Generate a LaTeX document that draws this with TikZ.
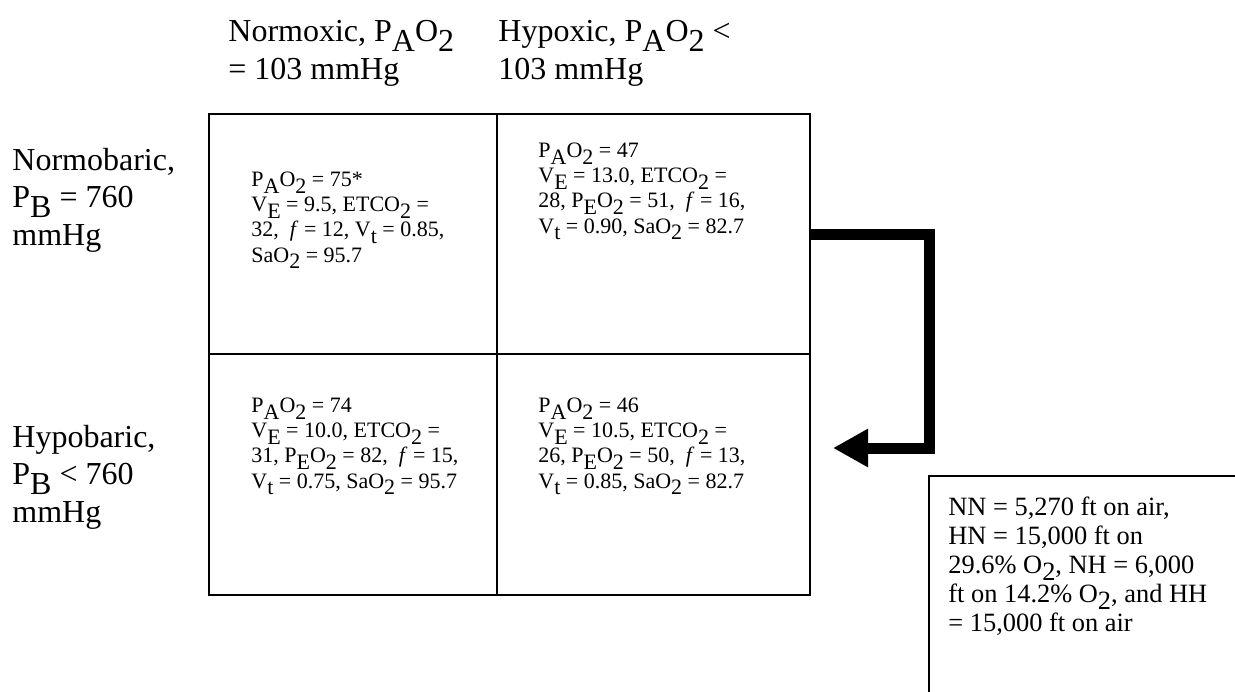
\documentclass[tikz,border=0pt]{standalone}
\usepackage{fontspec}
\setmainfont{Liberation Serif}
\usepackage{graphicx}
\usetikzlibrary{arrows.meta}

% lowered subscript, as set in the source
\newcommand{\lo}[1]{\raisebox{-0.3em}[0pt][0pt]{#1}}

\begin{document}
\begin{tikzpicture}[x=0.5pt, y=-0.5pt,
    cell/.style={draw, line width=1.2pt, anchor=north west, inner sep=0pt},
    celltext/.style={anchor=base west, align=left, inner sep=0pt,
      font=\fontsize{11}{12.6}\selectfont},
    side/.style={anchor=base west, align=left, inner sep=0pt,
      font=\fontsize{16}{18.75}\selectfont},
    notetext/.style={anchor=base west, align=left, inner sep=0pt,
      font=\fontsize{13.2}{14.5}\selectfont},
    bigarrow/.style={line width=5.5pt, line join=miter,
      -{Triangle[length=17.5pt, width=18pt]}}]
      \clip (0,0) rectangle (1235,691);

      % column heads (anchored on their last line)
      \node[side] (normoxic) at (228,79) {Normoxic, P\lo{A}O\lo{2}\\= 103 mmHg};
      \node[side] (hypoxic) at (498,79) {Hypoxic, P\lo{A}O\lo{2} <\\103 mmHg};

      % row heads
      \node[side] (normobaric) at (12,245) {Normobaric,\\P\lo{B} = 760\\mmHg};
      \node[side] (hypobaric) at (12,522) {Hypobaric,\\P\lo{B} < 760\\mmHg};

      % the four cells
      \node[cell, minimum width=144pt, minimum height=120pt] (nn) at (208,113) {};
      \node[cell, minimum width=156.5pt, minimum height=120pt] (nh) at (496,113) {};
      \node[cell, minimum width=144pt, minimum height=120.5pt] (hn) at (208,353) {};
      \node[cell, minimum width=156.5pt, minimum height=120.5pt] (hh) at (496,353) {};

      \node[celltext] (nntext) at (251,262) {P\lo{A}O\lo{2} = 75*\\
        V\lo{E} = 9.5, ETCO\lo{2} =\\
        32,\ \ \textit{f} = 12, V\lo{t} = 0.85,\\
        SaO\lo{2} = 95.7};
      \node[celltext] (nhtext) at (538,233) {P\lo{A}O\lo{2} = 47\\
        V\lo{E} = 13.0, ETCO\lo{2} =\\
        28, P\lo{E}O\lo{2} = 51,\ \ \textit{f} = 16,\\
        V\lo{t} = 0.90, SaO\lo{2} = 82.7};
      \node[celltext] (hntext) at (251,488) {P\lo{A}O\lo{2} = 74\\
        V\lo{E} = 10.0, ETCO\lo{2} =\\
        31, P\lo{E}O\lo{2} = 82,\ \ \textit{f} = 15,\\
        V\lo{t} = 0.75, SaO\lo{2} = 95.7};
      \node[celltext] (hhtext) at (538,488) {P\lo{A}O\lo{2} = 46\\
        V\lo{E} = 10.5, ETCO\lo{2} =\\
        26, P\lo{E}O\lo{2} = 50,\ \ \textit{f} = 13,\\
        V\lo{t} = 0.85, SaO\lo{2} = 82.7};

      % arrow from NH round to HH
      \coordinate (bend) at (929,448);
      \coordinate (tip) at (833,448);
      \draw[bigarrow] (nh.east) -| (bend) -- (tip);

      % key, cut by the page edge
      \draw[line width=1.2pt] (1250,476) -- (929,476) -- (929,710);
      \node[notetext] (key) at (948,631) {NN = 5,270 ft on air,\\
        HN = 15,000 ft on\\
        29.6\% O\lo{2}, NH = 6,000\\
        ft on 14.2\% O\lo{2}, and HH\\
        = 15,000 ft on air};
    \end{tikzpicture}
\end{document}
